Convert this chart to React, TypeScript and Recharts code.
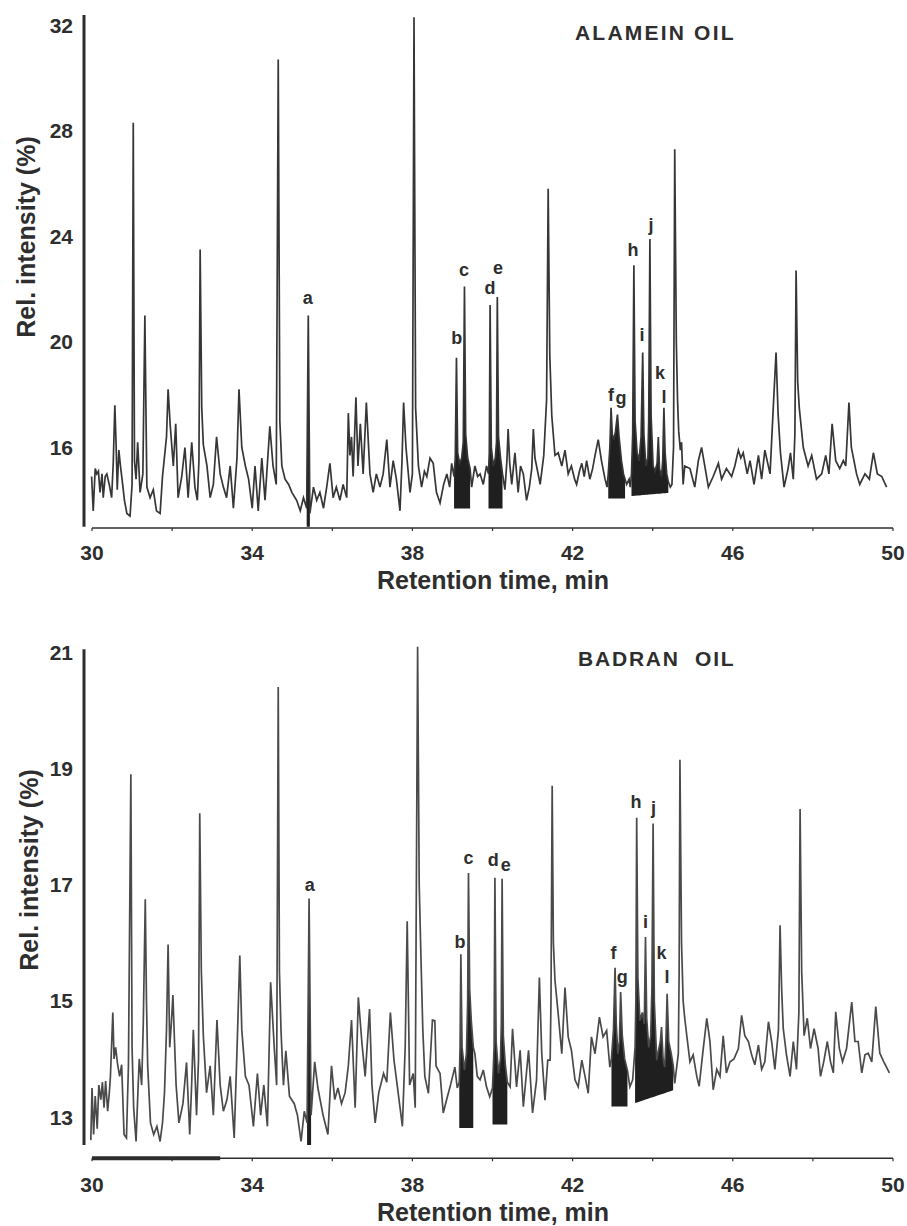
import { ComposedChart, Line, Area, Scatter, XAxis, YAxis, ReferenceLine } from 'recharts'

// retention time (min), relative intensity (%)
const alameinTrace: [number, number][] = [
  [29.99, 14.9], [30.03, 13.6], [30.08, 15.2], [30.12, 15.0], [30.16, 15.1], [30.2, 14.3], [30.25, 15.0], [30.28, 14.1],
  [30.33, 14.9], [30.37, 15.0], [30.43, 14.6], [30.49, 14.1], [30.53, 15.4], [30.57, 17.6], [30.6, 16.2], [30.63, 14.4],
  [30.67, 15.9], [30.71, 15.3], [30.75, 14.8], [30.81, 14.0], [30.87, 13.5], [30.95, 13.4], [31.0, 14.6], [31.03, 28.3],
  [31.06, 15.5], [31.1, 14.8], [31.14, 16.2], [31.2, 14.3], [31.27, 15.0], [31.32, 21.0], [31.35, 17.0], [31.37, 14.5],
  [31.45, 14.1], [31.53, 14.4], [31.61, 13.6], [31.7, 13.5], [31.76, 14.9], [31.86, 16.4], [31.9, 18.2], [31.95, 16.9],
  [32.03, 15.3], [32.09, 16.9], [32.15, 14.1], [32.24, 14.9], [32.32, 16.0], [32.4, 14.1], [32.49, 16.2], [32.57, 14.5],
  [32.63, 14.0], [32.67, 15.5], [32.7, 23.5], [32.74, 17.5], [32.78, 16.1], [32.87, 15.3], [32.95, 14.1], [33.03, 14.6],
  [33.11, 16.4], [33.2, 15.0], [33.28, 14.5], [33.36, 14.1], [33.45, 15.3], [33.53, 13.7], [33.62, 15.6], [33.67, 18.2],
  [33.74, 16.0], [33.83, 15.3], [33.91, 14.8], [34.0, 13.7], [34.07, 15.3], [34.15, 13.6], [34.24, 15.6], [34.32, 14.0],
  [34.44, 16.8], [34.52, 15.3], [34.6, 14.6], [34.65, 30.7], [34.69, 17.0], [34.74, 15.3], [34.82, 14.8], [34.91, 14.6],
  [34.99, 14.3], [35.11, 14.0], [35.2, 13.6], [35.28, 14.1], [35.36, 13.7], [35.4, 21.0], [35.44, 13.5], [35.53, 14.5],
  [35.61, 14.0], [35.69, 14.3], [35.78, 13.7], [35.86, 14.5], [35.94, 15.4], [36.02, 14.1], [36.1, 14.5], [36.19, 14.0],
  [36.27, 14.6], [36.36, 14.1], [36.4, 17.3], [36.44, 15.7], [36.48, 16.4], [36.52, 14.9], [36.59, 17.9], [36.64, 15.3],
  [36.7, 16.9], [36.77, 15.0], [36.85, 17.7], [36.94, 15.0], [37.02, 14.3], [37.1, 15.0], [37.19, 14.5], [37.27, 15.0],
  [37.36, 16.3], [37.44, 14.5], [37.52, 15.5], [37.6, 14.8], [37.69, 13.6], [37.74, 15.5], [37.78, 17.7], [37.84, 16.0],
  [37.94, 14.3], [38.0, 15.0], [38.04, 32.3], [38.08, 17.5], [38.15, 15.3], [38.23, 14.5], [38.3, 15.1], [38.36, 14.9],
  [38.44, 15.6], [38.52, 15.4], [38.6, 14.3], [38.69, 13.9], [38.78, 14.6], [38.86, 15.0], [38.93, 14.5], [38.98, 15.4],
  [39.04, 14.9], [39.07, 15.6], [39.1, 19.4], [39.13, 15.8], [39.18, 15.4], [39.23, 15.6], [39.27, 16.2], [39.3, 22.1],
  [39.33, 16.5], [39.38, 15.6], [39.44, 15.2], [39.48, 14.5], [39.56, 15.3], [39.63, 14.9], [39.69, 15.0], [39.77, 14.6],
  [39.85, 15.3], [39.9, 15.0], [39.92, 15.8], [39.94, 21.4], [39.97, 16.0], [40.02, 15.3], [40.07, 15.6], [40.1, 16.2],
  [40.12, 21.7], [40.15, 16.4], [40.2, 15.6], [40.25, 15.0], [40.31, 14.4], [40.36, 15.5], [40.39, 16.7], [40.43, 15.4],
  [40.48, 14.6], [40.56, 15.8], [40.64, 14.3], [40.7, 15.3], [40.77, 15.0], [40.85, 14.0], [40.92, 14.5], [40.98, 15.2],
  [41.02, 16.7], [41.06, 15.6], [41.1, 15.3], [41.19, 14.6], [41.28, 15.7], [41.35, 17.8], [41.39, 25.8], [41.43, 19.5],
  [41.48, 17.2], [41.56, 15.7], [41.64, 15.8], [41.73, 15.3], [41.81, 15.9], [41.89, 15.0], [41.97, 15.3], [42.05, 14.8],
  [42.1, 14.6], [42.17, 15.1], [42.23, 15.4], [42.29, 14.9], [42.35, 15.5], [42.43, 14.8], [42.5, 15.2], [42.56, 15.7],
  [42.64, 16.3], [42.72, 15.5], [42.81, 14.8], [42.86, 14.5], [42.89, 15.0], [42.93, 16.0], [42.96, 17.5], [42.99, 16.5],
  [43.03, 16.3], [43.07, 16.6], [43.12, 17.25], [43.16, 16.4], [43.22, 15.5], [43.27, 15.0], [43.31, 14.8], [43.35, 14.6],
  [43.41, 14.8], [43.44, 14.5], [43.47, 15.0], [43.5, 16.5], [43.53, 22.9], [43.56, 17.0], [43.61, 15.8], [43.66, 15.5],
  [43.71, 16.4], [43.75, 19.6], [43.78, 16.5], [43.83, 15.3], [43.88, 15.6], [43.9, 17.0], [43.93, 23.9], [43.96, 17.2],
  [44.01, 15.3], [44.06, 15.1], [44.11, 15.4], [44.14, 16.4], [44.17, 15.2], [44.22, 14.9], [44.25, 15.5], [44.28, 17.5],
  [44.31, 15.8], [44.35, 15.0], [44.39, 14.7], [44.44, 14.5], [44.48, 14.6], [44.52, 16.0], [44.55, 27.3], [44.59, 20.0],
  [44.62, 17.8], [44.65, 16.6], [44.69, 15.9], [44.72, 16.2], [44.76, 14.6], [44.8, 15.3], [44.93, 15.2], [45.05, 14.5], [45.14, 15.5],
  [45.22, 16.0], [45.3, 15.3], [45.39, 14.5], [45.51, 14.9], [45.64, 15.4], [45.72, 14.8], [45.84, 15.2], [45.97, 14.9],
  [46.05, 15.3], [46.14, 15.9], [46.2, 15.6], [46.26, 15.8], [46.36, 15.0], [46.43, 15.5], [46.53, 14.6], [46.64, 15.7],
  [46.72, 14.8], [46.8, 15.9], [46.93, 15.0], [47.01, 17.5], [47.08, 19.6], [47.13, 17.3], [47.19, 15.8], [47.28, 14.5],
  [47.38, 15.2], [47.44, 15.8], [47.51, 14.8], [47.55, 16.5], [47.58, 22.7], [47.62, 18.5], [47.66, 17.5], [47.76, 16.0],
  [47.88, 15.3], [47.97, 15.7], [48.09, 14.8], [48.22, 15.0], [48.32, 15.7], [48.4, 15.0], [48.48, 16.9], [48.57, 15.5],
  [48.67, 15.2], [48.76, 15.5], [48.82, 15.3], [48.9, 17.7], [48.96, 16.0], [49.09, 15.0], [49.17, 14.6], [49.3, 15.0],
  [49.41, 14.8], [49.51, 15.8], [49.61, 15.0], [49.72, 14.9], [49.84, 14.5],
]

const badranTrace: [number, number][] = [
  [29.97, 12.6], [30.0, 13.5], [30.04, 12.7], [30.08, 13.36], [30.13, 12.8], [30.17, 13.55], [30.22, 13.3], [30.26, 13.6],
  [30.3, 13.16], [30.34, 13.62], [30.39, 13.1], [30.43, 13.4], [30.46, 13.7], [30.52, 14.8], [30.55, 14.0], [30.59, 14.2],
  [30.64, 13.9], [30.69, 13.7], [30.74, 13.9], [30.8, 12.7], [30.86, 12.64], [30.91, 13.9], [30.97, 18.9], [31.0, 14.2],
  [31.04, 13.16], [31.1, 12.58], [31.15, 13.5], [31.18, 14.0], [31.24, 13.55], [31.28, 14.6], [31.33, 16.75], [31.36, 15.0],
  [31.39, 13.88], [31.46, 12.9], [31.54, 12.7], [31.62, 12.84], [31.7, 12.58], [31.76, 12.9], [31.81, 13.42], [31.86, 14.5],
  [31.9, 15.97], [31.94, 14.2], [31.98, 14.6], [32.02, 15.1], [32.06, 14.3], [32.1, 13.55], [32.17, 12.9], [32.27, 13.23],
  [32.36, 13.94], [32.44, 12.7], [32.49, 13.6], [32.53, 14.5], [32.61, 13.03], [32.66, 14.0], [32.69, 18.23], [32.73, 15.5],
  [32.78, 14.4], [32.86, 13.42], [32.95, 13.88], [33.03, 13.03], [33.12, 14.67], [33.2, 13.55], [33.28, 13.1], [33.37, 13.3],
  [33.45, 13.7], [33.55, 12.64], [33.62, 14.14], [33.69, 15.78], [33.74, 14.5], [33.83, 13.7], [33.92, 13.55], [34.03, 12.84],
  [34.13, 13.75], [34.21, 13.03], [34.29, 13.55], [34.38, 12.84], [34.46, 15.32], [34.55, 14.2], [34.61, 13.55], [34.65, 20.4],
  [34.68, 15.5], [34.72, 14.47], [34.78, 13.55], [34.84, 14.14], [34.93, 13.36], [35.05, 13.23], [35.13, 13.03], [35.22, 12.58],
  [35.3, 13.1], [35.37, 12.9], [35.42, 16.76], [35.47, 13.03], [35.56, 13.95], [35.64, 13.5], [35.77, 13.03], [35.89, 12.7],
  [35.98, 13.88], [36.06, 13.3], [36.14, 13.5], [36.23, 13.23], [36.32, 13.42], [36.4, 13.88], [36.48, 14.67], [36.57, 13.16],
  [36.65, 15.06], [36.74, 14.27], [36.82, 13.7], [36.93, 14.86], [36.99, 13.55], [37.07, 12.9], [37.16, 13.42], [37.28, 13.75],
  [37.36, 13.6], [37.45, 14.8], [37.54, 13.98], [37.62, 13.55], [37.75, 12.84], [37.82, 14.2], [37.87, 16.37], [37.93, 13.55],
  [38.02, 13.75], [38.07, 13.16], [38.13, 21.1], [38.17, 17.0], [38.21, 15.84], [38.26, 14.5], [38.31, 13.7], [38.4, 13.41],
  [38.5, 14.67], [38.56, 14.66], [38.59, 13.88], [38.69, 13.75], [38.77, 13.07], [38.85, 13.29], [38.94, 13.52], [39.06, 13.86],
  [39.12, 13.5], [39.17, 13.6], [39.19, 14.2], [39.21, 15.8], [39.24, 14.2], [39.3, 13.81], [39.35, 14.1], [39.38, 15.0],
  [39.4, 17.2], [39.43, 15.2], [39.47, 14.66], [39.52, 14.2], [39.56, 14.09], [39.62, 13.7], [39.69, 13.64], [39.77, 13.81],
  [39.85, 13.52], [39.93, 13.35], [40.0, 13.5], [40.04, 14.2], [40.06, 17.12], [40.09, 14.3], [40.15, 13.75], [40.2, 14.0],
  [40.22, 14.6], [40.24, 17.1], [40.27, 14.4], [40.32, 13.9], [40.37, 13.6], [40.44, 13.52], [40.5, 14.52], [40.6, 13.52],
  [40.69, 14.15], [40.77, 13.18], [40.9, 14.15], [41.0, 13.07], [41.1, 13.64], [41.17, 15.4], [41.23, 14.09], [41.31, 13.29],
  [41.38, 13.98], [41.44, 13.98], [41.46, 15.0], [41.49, 18.7], [41.52, 16.0], [41.56, 15.35], [41.64, 14.78], [41.73, 14.09],
  [41.81, 15.23], [41.89, 14.38], [41.97, 14.15], [42.06, 13.64], [42.14, 13.52], [42.23, 13.98], [42.31, 13.7], [42.39, 13.41],
  [42.47, 14.38], [42.56, 14.09], [42.67, 14.72], [42.76, 14.38], [42.85, 14.49], [42.93, 13.86], [42.97, 14.0], [43.02, 14.5],
  [43.06, 15.57], [43.09, 14.6], [43.13, 14.09], [43.17, 14.3], [43.2, 15.15], [43.24, 14.4], [43.3, 14.0], [43.37, 13.8],
  [43.43, 13.52], [43.5, 13.64], [43.56, 14.2], [43.58, 15.0], [43.6, 18.15], [43.63, 15.4], [43.68, 14.66], [43.74, 14.8],
  [43.79, 14.6], [43.82, 16.1], [43.85, 14.7], [43.9, 14.2], [43.95, 14.4], [43.98, 15.2], [44.01, 18.05], [44.04, 15.0],
  [44.1, 13.98], [44.16, 14.2], [44.19, 14.3], [44.22, 14.55], [44.26, 14.0], [44.3, 13.86], [44.33, 14.3], [44.36, 15.12],
  [44.4, 14.3], [44.46, 14.1], [44.51, 13.9], [44.55, 13.58], [44.64, 14.09], [44.66, 15.5], [44.68, 19.15], [44.72, 16.0],
  [44.76, 15.0], [44.8, 14.7], [44.86, 14.35], [44.93, 13.95], [45.01, 14.07], [45.1, 13.7], [45.16, 13.53], [45.25, 14.1],
  [45.35, 14.7], [45.43, 14.3], [45.51, 13.47], [45.6, 13.82], [45.68, 13.7], [45.76, 14.4], [45.84, 13.76], [45.93, 13.95],
  [46.03, 14.0], [46.14, 14.18], [46.22, 14.75], [46.3, 14.4], [46.39, 14.3], [46.47, 14.07], [46.55, 13.9], [46.64, 14.24],
  [46.72, 13.82], [46.8, 13.95], [46.89, 14.64], [46.97, 14.3], [47.05, 13.82], [47.14, 14.5], [47.18, 16.3], [47.22, 15.2],
  [47.26, 14.52], [47.34, 14.07], [47.43, 13.7], [47.51, 14.3], [47.59, 13.82], [47.65, 14.8], [47.68, 18.3], [47.72, 15.5],
  [47.78, 14.4], [47.86, 14.7], [47.94, 14.18], [48.03, 14.52], [48.13, 14.18], [48.19, 13.7], [48.27, 13.95], [48.36, 14.3],
  [48.44, 13.95], [48.51, 13.76], [48.57, 14.81], [48.66, 14.18], [48.74, 13.95], [48.84, 14.18], [48.97, 14.98], [49.05, 14.3],
  [49.13, 14.3], [49.22, 13.76], [49.3, 14.07], [49.38, 14.1], [49.47, 13.95], [49.57, 14.9], [49.67, 14.1], [49.77, 13.95],
  [49.91, 13.76],
]

// shaded (integrated) peak groups: start, end, baseline at start, baseline at end
const alameinBlocks = [
  [35.36, 35.44, 13.0, 13.0],
  [39.04, 39.44, 13.69, 13.69],
  [39.9, 40.25, 13.69, 13.69],
  [42.89, 43.31, 14.07, 14.07],
  [43.47, 44.39, 14.16, 14.28],
]
const badranBlocks = [
  [35.37, 35.47, 12.52, 12.52],
  [39.17, 39.52, 12.81, 12.81],
  [40.0, 40.37, 12.87, 12.87],
  [42.97, 43.37, 13.18, 13.18],
  [43.56, 44.51, 13.24, 13.46],
]

const alameinLabels = [
  { id: 'a', t: 35.39, v: 21.66 }, { id: 'b', t: 39.11, v: 20.14 }, { id: 'c', t: 39.29, v: 22.72 },
  { id: 'd', t: 39.94, v: 22.04 }, { id: 'e', t: 40.14, v: 22.8 }, { id: 'f', t: 42.96, v: 17.98 },
  { id: 'g', t: 43.21, v: 17.87 }, { id: 'h', t: 43.51, v: 23.48 }, { id: 'i', t: 43.73, v: 20.26 },
  { id: 'j', t: 43.96, v: 24.42 }, { id: 'k', t: 44.18, v: 18.82 }, { id: 'l', t: 44.28, v: 17.91 },
]
const badranLabels = [
  { id: 'a', t: 35.44, v: 17.0 }, { id: 'b', t: 39.19, v: 16.02 }, { id: 'c', t: 39.4, v: 17.45 },
  { id: 'd', t: 40.02, v: 17.42 }, { id: 'e', t: 40.33, v: 17.33 }, { id: 'f', t: 43.02, v: 15.82 },
  { id: 'g', t: 43.24, v: 15.41 }, { id: 'h', t: 43.58, v: 18.42 }, { id: 'i', t: 43.82, v: 16.35 },
  { id: 'j', t: 44.02, v: 18.32 }, { id: 'k', t: 44.22, v: 15.82 }, { id: 'l', t: 44.36, v: 15.41 },
]

const alameinYTicks = [16, 20, 24, 28, 32]
const badranYTicks = [13, 15, 17, 19, 21]
const xTicks = [30, 32, 34, 36, 38, 40, 42, 44, 46, 48, 50]
const xLabelled = [30, 34, 38, 42, 46, 50]

const FONT = '"Liberation Sans", Arial, Helvetica, sans-serif'
const INK = '#2e2e2e'

function blockData(trace: [number, number][], b: number[]) {
  const [t0, t1, b0, b1] = b
  return trace
    .filter(([t]) => t >= t0 && t <= t1)
    .map(([t, v]) => ({ t, range: [b0 + ((b1 - b0) * (t - t0)) / (t1 - t0), v] }))
}

function LabelText(props: any) {
  const { cx, cy, payload } = props
  return (
    <text x={cx} y={cy} textAnchor="middle" dominantBaseline="central" fontSize={18} fontWeight="bold" fontFamily={FONT} fill={INK}>
      {payload.id}
    </text>
  )
}

function Chromatogram(props: {
  trace: [number, number][]
  blocks: number[][]
  labels: { id: string; t: number; v: number }[]
  yDomain: [number, number]
  yTicks: number[]
  yAxisSpan: [number, number]
  marginTop: number
  marginBottom: number
  xTickMargin: number
  stroke: string
  thickAxis?: [number, number]
}) {
  const line = props.trace.map(([t, v]) => ({ t, v }))
  const [y0] = props.yDomain
  const tickStyle = { fill: INK, fontSize: 21, fontWeight: 'bold', fontFamily: FONT }
  return (
    <ComposedChart width={907} height={600} margin={{ top: props.marginTop, right: 14, bottom: props.marginBottom, left: 40 }}>
      <XAxis
        dataKey="t"
        type="number"
        domain={[29.8, 50]}
        allowDataOverflow
        ticks={xTicks}
        tickFormatter={(v: number) => (xLabelled.includes(v) ? String(v) : '')}
        axisLine={false}
        tickLine={{ stroke: INK, strokeWidth: 1.2 }}
        tickSize={3}
        tickMargin={props.xTickMargin}
        height={30}
        tick={tickStyle}
      />
      <YAxis
        type="number"
        domain={props.yDomain}
        allowDataOverflow
        ticks={props.yTicks}
        axisLine={false}
        tickLine={false}
        tickSize={0}
        tickMargin={11}
        width={44}
        tick={tickStyle}
      />
      <ReferenceLine segment={[{ x: 29.8, y: props.yAxisSpan[0] }, { x: 29.8, y: props.yAxisSpan[1] }]} stroke={INK} strokeWidth={3} />
      <ReferenceLine segment={[{ x: 30, y: y0 }, { x: 50, y: y0 }]} stroke={INK} strokeWidth={1.6} />
      {props.thickAxis && (
        <ReferenceLine segment={[{ x: props.thickAxis[0], y: y0 }, { x: props.thickAxis[1], y: y0 }]} stroke={INK} strokeWidth={4} />
      )}
      {props.blocks.map((b, i) => (
        <Area
          key={i}
          data={blockData(props.trace, b)}
          dataKey="range"
          type="linear"
          stroke="none"
          fill="#1f1f1f"
          fillOpacity={1}
          isAnimationActive={false}
        />
      ))}
      <Line data={line} dataKey="v" type="linear" stroke={props.stroke} strokeWidth={1.7} dot={false} activeDot={false} isAnimationActive={false} />
      <Scatter data={props.labels} dataKey="v" shape={LabelText} isAnimationActive={false} />
    </ComposedChart>
  )
}

const titleStyle = { position: 'absolute' as const, fontFamily: FONT, fontWeight: 'bold', color: INK, whiteSpace: 'pre' as const, lineHeight: 1 }

export default function App() {
  return (
    <div style={{ position: 'absolute', left: 0, top: 0, width: 907, height: 1226, background: '#fff' }}>
      <div style={{ position: 'absolute', left: 0, top: 0 }}>
        <Chromatogram
          trace={alameinTrace}
          blocks={alameinBlocks}
          labels={alameinLabels}
          yDomain={[12.95, 32.4]}
          yTicks={alameinYTicks}
          yAxisSpan={[13.0, 32.38]}
          marginTop={14.5}
          marginBottom={42}
          xTickMargin={14}
          stroke="#363636"
        />
      </div>
      <div style={{ position: 'absolute', left: 0, top: 620 }}>
        <Chromatogram
          trace={badranTrace}
          blocks={badranBlocks}
          labels={badranLabels}
          yDomain={[12.29, 21.1]}
          yTicks={badranYTicks}
          yAxisSpan={[12.52, 21.05]}
          marginTop={26.4}
          marginBottom={31.7}
          xTickMargin={16}
          stroke="#4a4a4a"
          thickAxis={[30, 33.2]}
        />
      </div>

      <div style={{ ...titleStyle, left: 575, top: 22, fontSize: 21, letterSpacing: 2.2 }}>ALAMEIN OIL</div>
      <div style={{ ...titleStyle, left: 578, top: 648, fontSize: 21, letterSpacing: 1.8 }}>BADRAN  OIL</div>

      <div style={{ ...titleStyle, left: 26, top: 237, fontSize: 25, transform: 'translate(-50%, -50%) rotate(-90deg)' }}>Rel. intensity (%)</div>
      <div style={{ ...titleStyle, left: 29, top: 870, fontSize: 25, transform: 'translate(-50%, -50%) rotate(-90deg)' }}>Rel. intensity (%)</div>

      <div style={{ ...titleStyle, left: 493, top: 580, fontSize: 25, transform: 'translate(-50%, -50%)' }}>Retention time, min</div>
      <div style={{ ...titleStyle, left: 493, top: 1212, fontSize: 25, transform: 'translate(-50%, -50%)' }}>Retention time, min</div>
    </div>
  )
}
